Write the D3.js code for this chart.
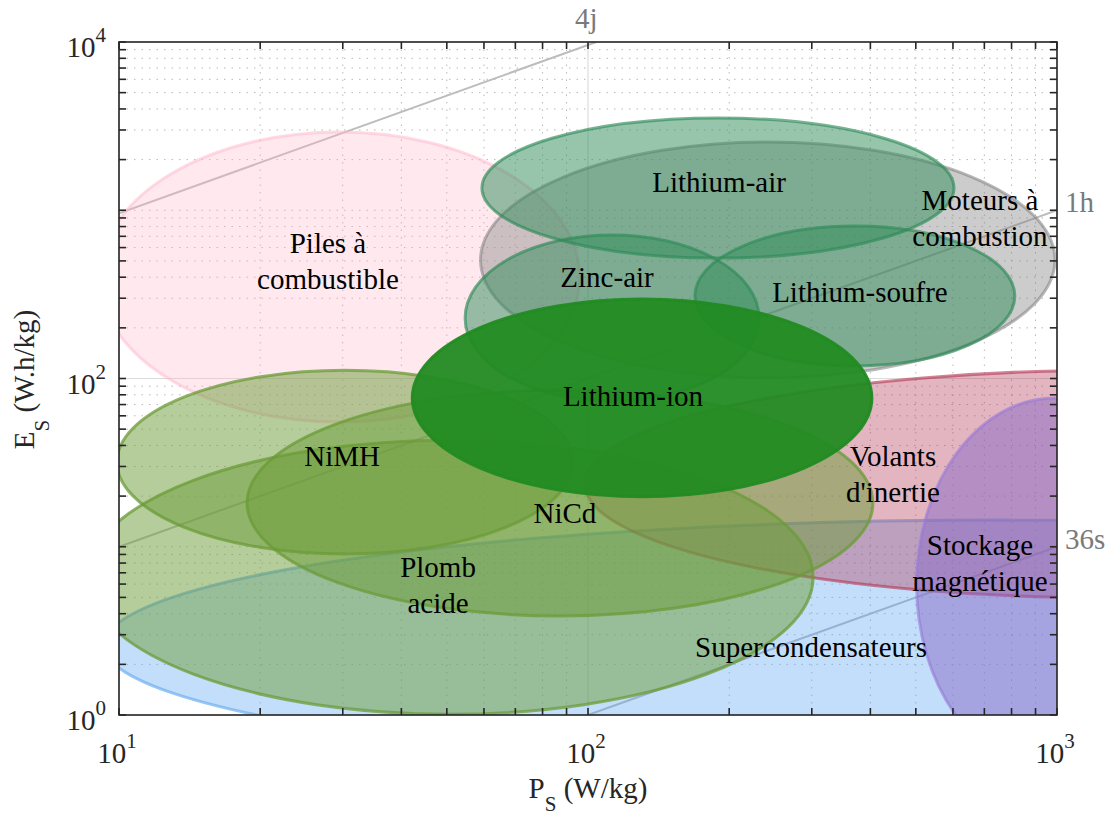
<!DOCTYPE html>
<html><head><meta charset="utf-8">
<script src="https://cdn.jsdelivr.net/npm/d3@7"></script>
<style>
body{margin:0;background:#fff}
svg{display:block}
</style>
</head><body>
<svg id="chart" width="1110" height="816"></svg>
<script>
// ---------- DATA ----------
const technologies = ["Supercondensateurs","Volants d'inertie","Stockage magnétique","Piles à combustible","Moteurs à combustion","Plomb acide","NiMH","NiCd","Zinc-air","Lithium-soufre","Lithium-air","Lithium-ion"];
const powerMin  = [9.3,   98.5, 502, 9.1,  59,   8.55, 9.9,  18.75, 54.7, 169, 59.4, 42.2]; // W/kg
const powerMax  = [61200, 17950,1950,96,   990,  302,  92.9, 405,   231.5,813, 603,  403];
const energyMin = [0.47,  4.96, 0.46,55.1, 100.7,1.01, 9.06, 3.88,  73.5, 118.7,520, 19.8]; // Wh/kg
const energyMax = [14.4,  112,  76.6,2917, 2546, 43,   112,  85.5,  713,  806, 3535, 297];
const labelLines = [["Supercondensateurs"],["Volants","d'inertie"],["Stockage","magnétique"],["Piles à","combustible"],["Moteurs à","combustion"],["Plomb","acide"],["NiMH"],["NiCd"],["Zinc-air"],["Lithium-soufre"],["Lithium-air"],["Lithium-ion"]];
const labelPower  = [298.9, 446.9, 685, 27.9, 685, 47.9, 29.9, 89.3, 109.8, 380, 190.3, 124.7];
const labelEnergy = [2.54,  26.9,  8.06, 496, 899, 5.93, 34.6, 15.9, 401,   326.6,1472, 78.7];

const timeHours  = [96, 1, 0.01];
const timeLabels = ["4j", "1h", "36s"];

const xTickValues = [10, 100, 1000];
const xTickExps   = ["1", "2", "3"];
const yTickValues = [1, 100, 10000];
const yTickExps   = ["0", "2", "4"];

// ---------- STYLES ----------
const palette = {
  "Supercondensateurs":   {fill:"rgb(80,160,240)",  fo:0.35, stroke:"rgb(110,175,240)", so:0.7},
  "Volants d'inertie":    {fill:"rgb(178,50,80)",   fo:0.36, stroke:"rgb(178,50,80)",   so:0.6},
  "Stockage magnétique":  {fill:"rgb(135,105,200)", fo:0.5,  stroke:"rgb(150,120,215)", so:0.6},
  "Piles à combustible":  {fill:"rgb(255,182,203)", fo:0.3,  stroke:"rgb(255,182,203)", so:0.5},
  "Moteurs à combustion": {fill:"rgb(128,128,128)", fo:0.4,  stroke:"rgb(128,128,128)", so:0.55},
  "Plomb acide":          {fill:"rgb(107,155,55)",  fo:0.5,  stroke:"rgb(107,155,55)",  so:0.75},
  "NiMH":                 {fill:"rgb(107,155,55)",  fo:0.5,  stroke:"rgb(107,155,55)",  so:0.75},
  "NiCd":                 {fill:"rgb(107,155,55)",  fo:0.5,  stroke:"rgb(107,155,55)",  so:0.75},
  "Zinc-air":             {fill:"rgb(46,139,87)",   fo:0.5,  stroke:"rgb(46,139,87)",   so:0.65},
  "Lithium-soufre":       {fill:"rgb(46,139,87)",   fo:0.5,  stroke:"rgb(46,139,87)",   so:0.65},
  "Lithium-air":          {fill:"rgb(46,139,87)",   fo:0.5,  stroke:"rgb(46,139,87)",   so:0.65},
  "Lithium-ion":          {fill:"rgb(34,139,34)",   fo:0.95, stroke:"rgb(34,139,34)",   so:0.95}
};

// ---------- CHART ----------
const svg = d3.select("#chart").style("font-family", "Liberation Serif");
const L = 119, R = 1057, T = 42, B = 715;
const x = d3.scaleLog().domain([10, 1000]).range([L, R]);
const y = d3.scaleLog().domain([1, 10000]).range([B, T]);

svg.append("defs").append("clipPath").attr("id","plotclip")
  .append("rect").attr("x",L).attr("y",T).attr("width",R-L).attr("height",B-T);

const xMinor = [], yMinor = [];
for (let d = 10; d < 1000; d *= 10) for (let k = 2; k <= 9; k++) xMinor.push(k*d);
for (let d = 1; d < 10000; d *= 10) for (let k = 1; k <= 9; k++) { const v = k*d; if (!yTickValues.includes(v)) yMinor.push(v); }

const grid = svg.append("g");
grid.selectAll(".xmin").data(xMinor).join("line")
  .attr("x1", d=>x(d)).attr("x2", d=>x(d)).attr("y1", T).attr("y2", B)
  .attr("stroke","#b8b8b8").attr("stroke-width",1).attr("stroke-dasharray","1.5,6");
grid.selectAll(".ymin").data(yMinor).join("line")
  .attr("y1", d=>y(d)).attr("y2", d=>y(d)).attr("x1", L).attr("x2", R)
  .attr("stroke","#b8b8b8").attr("stroke-width",1).attr("stroke-dasharray","1.5,6");
grid.selectAll(".xmaj").data(xTickValues).join("line")
  .attr("x1", d=>x(d)).attr("x2", d=>x(d)).attr("y1", T).attr("y2", B)
  .attr("stroke","#dcdcdc").attr("stroke-width",1.2);
grid.selectAll(".ymaj").data(yTickValues).join("line")
  .attr("y1", d=>y(d)).attr("y2", d=>y(d)).attr("x1", L).attr("x2", R)
  .attr("stroke","#dcdcdc").attr("stroke-width",1.2);

const plot = svg.append("g").attr("clip-path","url(#plotclip)");
const lines = timeHours.map((t,i) => {
  const p0 = Math.max(10, 1/t), p1 = Math.min(1000, 10000/t);
  return {t, p0, p1, label: timeLabels[i]};
});
plot.selectAll(".tl").data(lines).join("line")
  .attr("x1", d=>x(d.p0)).attr("y1", d=>y(d.t*d.p0))
  .attr("x2", d=>x(d.p1)).attr("y2", d=>y(d.t*d.p1))
  .attr("stroke","#bcbcbc").attr("stroke-width",2);

const ell = technologies.map((n,i)=>({
  name:n,
  cx:(x(powerMin[i])+x(powerMax[i]))/2, cy:(y(energyMin[i])+y(energyMax[i]))/2,
  rx:(x(powerMax[i])-x(powerMin[i]))/2, ry:(y(energyMin[i])-y(energyMax[i]))/2
}));
plot.selectAll(".el").data(ell).join("ellipse")
  .attr("cx", d=>d.cx).attr("cy", d=>d.cy).attr("rx", d=>d.rx).attr("ry", d=>d.ry)
  .attr("fill", d=>palette[d.name].fill).attr("fill-opacity", d=>palette[d.name].fo)
  .attr("stroke", d=>palette[d.name].stroke).attr("stroke-opacity", d=>palette[d.name].so)
  .attr("stroke-width", 3);

const lineH = 36;
technologies.forEach((n,i)=>{
  const ls = labelLines[i];
  const cx = x(labelPower[i]), cy = y(labelEnergy[i]);
  ls.forEach((s,j)=>{
    svg.append("text").attr("x",cx).attr("y", cy + (j-(ls.length-1)/2)*lineH + 10)
      .attr("text-anchor","middle").attr("font-size",29).attr("fill","#000").text(s);
  });
});

const ax = svg.append("g").attr("stroke","#262626").attr("stroke-width",1.6);
const tickLen = 7;
const xAll = xTickValues.concat(xMinor), yAll = yTickValues.concat(yMinor);
ax.selectAll(".xb").data(xAll).join("line").attr("x1",d=>x(d)).attr("x2",d=>x(d)).attr("y1",B).attr("y2",B-tickLen);
ax.selectAll(".xt").data(xAll).join("line").attr("x1",d=>x(d)).attr("x2",d=>x(d)).attr("y1",T).attr("y2",T+tickLen);
ax.selectAll(".yl").data(yAll).join("line").attr("y1",d=>y(d)).attr("y2",d=>y(d)).attr("x1",L).attr("x2",L+tickLen);
ax.selectAll(".yr").data(yAll).join("line").attr("y1",d=>y(d)).attr("y2",d=>y(d)).attr("x1",R).attr("x2",R-tickLen);
ax.append("rect").attr("x",L).attr("y",T).attr("width",R-L).attr("height",B-T).attr("fill","none");

xTickValues.forEach((v,i)=>{
  const t = svg.append("text").attr("x", x(v)-2).attr("y", B+48).attr("text-anchor","middle")
    .attr("font-size",29).attr("fill","#262626");
  t.append("tspan").text("10");
  t.append("tspan").attr("dy",-15).attr("font-size",21).text(xTickExps[i]);
});
yTickValues.forEach((v,i)=>{
  const t = svg.append("text").attr("x", L-13).attr("y", y(v)+15).attr("text-anchor","end")
    .attr("font-size",29).attr("fill","#262626");
  t.append("tspan").text("10");
  t.append("tspan").attr("dy",-15).attr("font-size",21).text(yTickExps[i]);
});

lines.forEach(d=>{
  if (d.p1 < 1000) {
    svg.append("text").attr("x", x(d.p1)-10).attr("y", T-14).attr("text-anchor","middle")
      .attr("font-size",29).attr("fill","#7a7a7a").text(d.label);
  } else {
    svg.append("text").attr("x", R+8).attr("y", y(d.t*d.p1)+2).attr("text-anchor","start")
      .attr("font-size",29).attr("fill","#7a7a7a").text(d.label);
  }
});

const xt = svg.append("text").attr("x",(L+R)/2).attr("y",798).attr("text-anchor","middle")
  .attr("font-size",29).attr("fill","#262626");
xt.append("tspan").text("P");
xt.append("tspan").attr("dy",13).attr("font-size",21).text("S");
xt.append("tspan").attr("dy",-13).text(" (W/kg)");

const yt = svg.append("text").attr("transform",`translate(34,${(T+B)/2+1}) rotate(-90)`)
  .attr("text-anchor","middle").attr("font-size",29).attr("fill","#262626");
yt.append("tspan").text("E");
yt.append("tspan").attr("dy",15).attr("font-size",21).text("S");
yt.append("tspan").attr("dy",-15).text(" (W.h/kg)");
</script>
</body></html>
